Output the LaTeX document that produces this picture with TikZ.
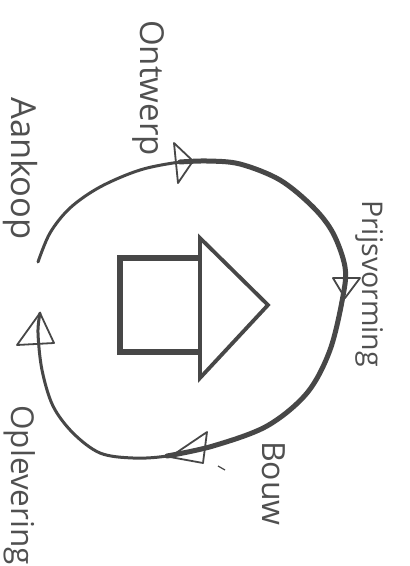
\documentclass[tikz,border=0pt]{standalone}
\usepackage{fontspec}
\setmainfont{Open Sans}
\definecolor{ink}{HTML}{474747}
\definecolor{txt}{HTML}{505050}
\begin{document}
\begin{tikzpicture}[x=1pt,y=-1pt,
  loopline/.style={draw=ink,line cap=round,line join=round},
  arrowhead/.style={draw=ink,line width=1.8pt,line join=round},
  shapeline/.style={draw=ink,line join=miter},
  lbl/.style={text=txt,rotate=-90,anchor=base west,inner sep=0pt,font=\fontsize{#1}{#1}\selectfont}]
\useasboundingbox[fill=white] (0,0) rectangle (410,566);
% loop
\draw[loopline,line width=3pt] plot[smooth,tension=0.55] coordinates {
 (38,262) (50,233) (70,208) (100,187) (140,170) (180,162) (207,161) (240,164)
 (280,180) (313,207) (333,233) (345,267) (343,296) (330,350) (307,393)
 (267,426) (213,446) (167,456) (133,458) (100,453) (73,433) (53,406)
 (42,370) (38,333) (40,313)};
\draw[loopline,line width=5pt] plot[smooth,tension=0.55] coordinates {
 (180,162) (207,161) (240,164)
 (280,180) (313,207) (333,233) (345,267) (343,296) (330,350) (307,393)
 (267,426) (213,446) (167,456)};
% arrowheads
\draw[arrowhead] (174,143) -- (193,161) -- (178,183) -- cycle;
\draw[arrowhead] (333,278) -- (360,278) -- (345,298) -- cycle;
\draw[arrowhead] (207,432) -- (170,457) -- (203,463) -- cycle;
\draw[arrowhead] (40,313) -- (17,345) -- (54,343) -- cycle;
\draw[ink,line width=1.2pt] (218,466) -- (225,470);
% centre symbol
\draw[shapeline,line width=6pt] (198,258) -- (120,258) -- (120,352) -- (198,352);
\draw[shapeline,line width=3.8pt] (200,238) -- (268,305) -- (200,378) -- cycle;
% labels
\node[lbl=33] (ontwerp) at (140,20) {Ontwerp};
\node[lbl=34.5] (aankoop) at (12,97) {Aankoop};
\node[lbl=28.5] (prijs) at (362,200) {Prijsvorming};
\node[lbl=32] (bouw) at (262,441) {Bouw};
\node[lbl=31.5] (opl) at (12,405) {Oplevering};
\end{tikzpicture}
\end{document}
